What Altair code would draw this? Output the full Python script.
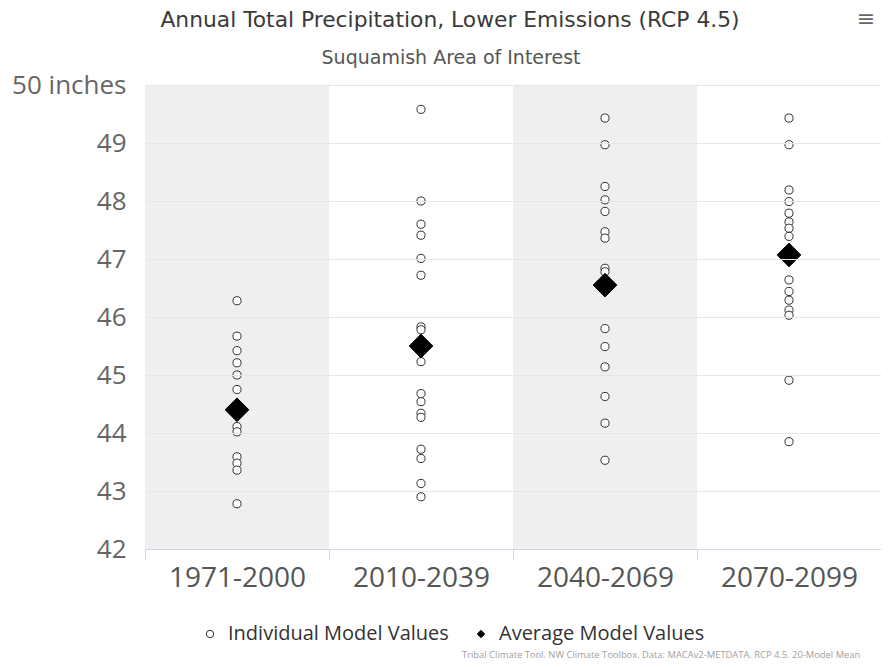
import altair as alt
import pandas as pd

# ---- data ----
periods = ["1971-2000", "2010-2039", "2040-2069", "2070-2099"]

models_1971_2000 = [46.28, 45.67, 45.42, 45.21, 45.00, 44.75, 44.11, 44.02,
                    43.59, 43.48, 43.36, 42.78]
models_2010_2039 = [49.58, 48.00, 47.60, 47.41, 47.01, 46.72, 45.83, 45.78,
                    45.23, 44.68, 44.54, 44.34, 44.27, 43.72, 43.56, 43.13, 42.90]
models_2040_2069 = [49.43, 48.97, 48.25, 48.02, 47.82, 47.47, 47.36, 46.84,
                    46.78, 45.80, 45.49, 45.14, 44.63, 44.17, 43.53]
models_2070_2099 = [49.43, 48.97, 48.19, 47.99, 47.79, 47.64, 47.53, 47.39,
                    46.64, 46.44, 46.29, 46.12, 46.03, 44.91, 43.85]
averages = [44.40, 45.50, 46.55, 47.07]

y_ticks = [42, 43, 44, 45, 46, 47, 48, 49, 50]
series_names = ["Individual Model Values", "Average Model Values"]

title_text = "Annual Total Precipitation, Lower Emissions (RCP 4.5)"
subtitle_text = "Suquamish Area of Interest"
credit_text = ("Tribal Climate Tool, NW Climate Toolbox, Data: MACAv2-METDATA, "
               "RCP 4.5, 20-Model Mean")
menu_glyph = "≡"

# ---- tables ----
rows = []
for p, vals in zip(periods, [models_1971_2000, models_2010_2039,
                             models_2040_2069, models_2070_2099]):
    for v in vals:
        rows.append({"period": p, "value": v, "series": series_names[0]})
ind_df = pd.DataFrame(rows)
avg_df = pd.DataFrame({"period": periods, "value": averages,
                       "series": series_names[1]})

FONT = "Open Sans"
TFONT = "DejaVu Sans"
W, H = 736, 464

xscale = alt.Scale(type="band", domain=periods, paddingInner=0, paddingOuter=0)
yscale = alt.Scale(domain=[42, 50], nice=False, zero=False)
shape_scale = alt.Scale(domain=series_names, range=["circle", "diamond"])
fill_scale = alt.Scale(domain=series_names, range=["white", "black"])
stroke_scale = alt.Scale(domain=series_names, range=["#333333", "black"])

legend = alt.Legend(
    title=None, orient="none", legendX=55, legendY=539, direction="horizontal",
    labelFontSize=20, labelFont=FONT, labelColor="#333", labelLimit=0,
    symbolSize=55, symbolStrokeWidth=1, columnPadding=22, labelOffset=8,
)

x_enc = alt.X("period:N", scale=xscale, title=None,
              axis=alt.Axis(labelAngle=0, labelFontSize=28, labelFont=FONT,
                            labelColor="#555", labelPadding=5,
                            domainColor="#ccd6eb", tickColor="#ccd6eb",
                            tickSize=10, tickBand="extent", grid=False))
y_enc = alt.Y("value:Q", scale=yscale, title=None,
              axis=alt.Axis(values=y_ticks, labelFontSize=26, labelFont=FONT,
                            labelColor="#666", labelPadding=19, domain=False,
                            ticks=False, gridColor="#e6e6e6", zindex=1,
                            labelExpr="datum.value == 50 ? '50 inches' : datum.label"))

bands = (
    alt.Chart(pd.DataFrame({"period": periods}))
    .transform_window(idx="row_number()")
    .transform_filter("datum.idx % 2 == 1")
    .mark_rect(fill="#efefef")
    .encode(x=x_enc)
)

def series_layer(df, size):
    return (
        alt.Chart(df)
        .mark_point(filled=True, size=size, strokeWidth=1, opacity=1)
        .encode(
            x=x_enc, y=y_enc,
            shape=alt.Shape("series:N", scale=shape_scale, legend=legend),
            fill=alt.Fill("series:N", scale=fill_scale, legend=legend),
            stroke=alt.Stroke("series:N", scale=stroke_scale, legend=legend),
        )
    )

points = series_layer(ind_df, 66)
avg_pts = series_layer(avg_df, 560)

def text_layer(txt, x, y, size, color, align="center", font=FONT):
    return (
        alt.Chart(pd.DataFrame({"t": [txt]}))
        .mark_text(align=align, baseline="middle", fontSize=size, font=font,
                   color=color)
        .encode(text="t:N", x=alt.value(x), y=alt.value(y))
    )

title = text_layer(title_text, 305, -65, 21.8, "#3a3a3a", font=TFONT)
subtitle = text_layer(subtitle_text, 306, -27, 19, "#555", font=TFONT)
credit = text_layer(credit_text, 317, 570, 9.4, "#a0a0a0", align="left")
menu = text_layer(menu_glyph, 721, -66, 22, "#666", font="DejaVu Sans")

chart = (
    alt.layer(bands, points, avg_pts, title, subtitle, credit, menu)
    .properties(
        width=W, height=H,
        autosize=alt.AutoSizeParams(type="none"),
        padding={"left": 137, "top": 77, "right": 0, "bottom": 109},
    )
    .configure_view(stroke=None)
)

chart.save("out.html", embed_options={"renderer": "svg", "actions": False})
